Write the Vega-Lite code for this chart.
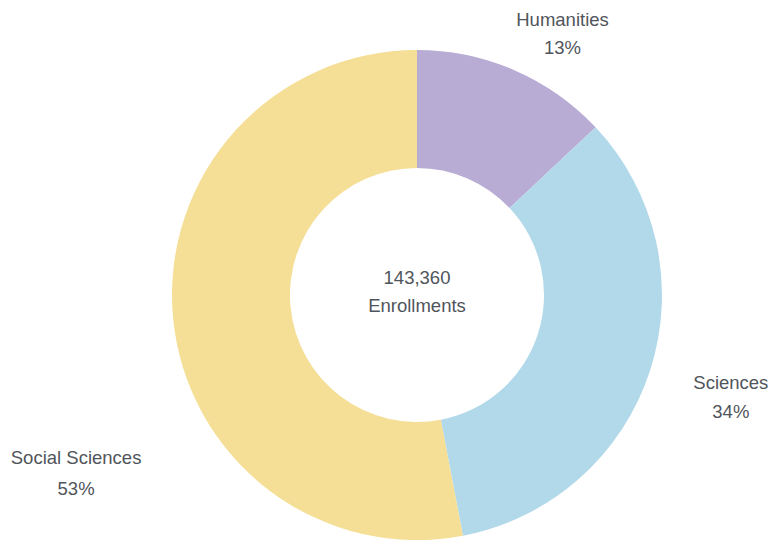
{
  "$schema": "https://vega.github.io/schema/vega-lite/v6.json",
  "width": 708,
  "height": 496,
  "padding": {"left": 63, "top": 47, "right": 0, "bottom": 0},
  "autosize": "none",
  "background": "white",
  "config": {"view": {"stroke": null}, "text": {"font": "Liberation Sans"}},
  "data": {
    "values": [
      {"category": "Humanities", "enrollments": 18640},
      {"category": "Sciences", "enrollments": 48740},
      {"category": "Social Sciences", "enrollments": 75980}
    ]
  },
  "transform": [
    {"joinaggregate": [{"op": "sum", "field": "enrollments", "as": "total"}]},
    {"window": [{"op": "sum", "field": "enrollments", "as": "cum"}], "sort": [{"field": "category", "order": "ascending"}], "frame": [null, 0]},
    {"calculate": "datum.cum - datum.enrollments / 2", "as": "mid"},
    {"calculate": "datum.category + '\\n' + format(datum.enrollments / datum.total, '.0%')", "as": "label"}
  ],
  "layer": [
    {
      "mark": {"type": "arc", "outerRadius": 245, "innerRadius": 127},
      "encoding": {
        "theta": {"field": "enrollments", "type": "quantitative", "stack": true},
        "order": {"field": "category", "type": "nominal", "sort": "ascending"},
        "color": {
          "field": "category",
          "type": "nominal",
          "scale": {"domain": ["Humanities", "Sciences", "Social Sciences"], "range": ["#b9acd4", "#b2d9ea", "#f5df96"]},
          "legend": null
        }
      }
    },
    {
      "transform": [{"filter": "datum.category === 'Humanities'"}],
      "mark": {"type": "text", "radius": 300, "thetaOffset": 0.098, "fontSize": 18.5, "lineHeight": 28, "color": "#50555b", "lineBreak": "\n", "dy": -13},
      "encoding": {"theta": {"field": "mid", "type": "quantitative", "stack": null}, "text": {"field": "label"}}
    },
    {
      "transform": [{"filter": "datum.category === 'Sciences'"}],
      "mark": {"type": "text", "radius": 330, "fontSize": 18.5, "lineHeight": 29, "color": "#50555b", "lineBreak": "\n", "dy": -14},
      "encoding": {"theta": {"field": "mid", "type": "quantitative", "stack": null}, "text": {"field": "label"}}
    },
    {
      "transform": [{"filter": "datum.category === 'Social Sciences'"}],
      "mark": {"type": "text", "radius": 384, "thetaOffset": -0.384, "fontSize": 18.5, "lineHeight": 31, "color": "#50555b", "lineBreak": "\n", "dy": -14},
      "encoding": {"theta": {"field": "mid", "type": "quantitative", "stack": null}, "text": {"field": "label"}}
    },
    {
      "transform": [
        {"aggregate": [{"op": "sum", "field": "enrollments", "as": "sum"}]},
        {"calculate": "format(datum.sum, ',') + '\\nEnrollments'", "as": "center"}
      ],
      "mark": {"type": "text", "fontSize": 18.5, "lineHeight": 28, "color": "#50555b", "lineBreak": "\n", "dy": -17},
      "encoding": {"text": {"field": "center"}}
    }
  ]
}
